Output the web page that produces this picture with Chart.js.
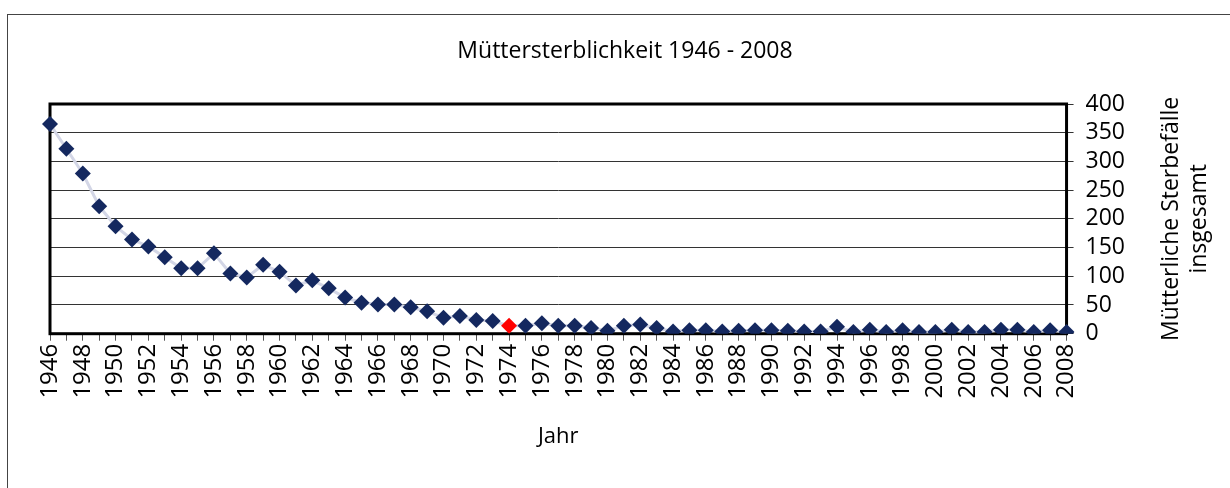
<!DOCTYPE html>
<html>
<head>
<meta charset="utf-8">
<script src="https://cdn.jsdelivr.net/npm/chart.js@4.4.0/dist/chart.umd.min.js"></script>
<style>
  html, body { margin: 0; padding: 0; background: #fff; }
  #frame { position: absolute; left: 7px; top: 14px; width: 1240px; height: 490px; border: 1px solid #444; box-sizing: border-box; }
  #wrap { position: absolute; left: 0; top: 0; width: 1230px; height: 488px; }
</style>
</head>
<body>
<div id="frame"></div>
<div id="wrap"><canvas id="chart"></canvas></div>
<script>
// Jahre (Kategorien)
const years = [
  '1946','1947','1948','1949','1950','1951','1952','1953','1954','1955',
  '1956','1957','1958','1959','1960','1961','1962','1963','1964','1965',
  '1966','1967','1968','1969','1970','1971','1972','1973','1974','1975',
  '1976','1977','1978','1979','1980','1981','1982','1983','1984','1985',
  '1986','1987','1988','1989','1990','1991','1992','1993','1994','1995',
  '1996','1997','1998','1999','2000','2001','2002','2003','2004','2005',
  '2006','2007','2008'
];

// Mütterliche Sterbefälle insgesamt (aus dem Bild geschätzt)
const deaths = [
  365, 322, 279, 222, 187, 164, 152, 133, 114, 114,
  140, 105, 98, 120, 108, 84, 93, 79, 63, 54,
  51, 51, 46, 39, 28, 31, 24, 22, 14, 14,
  18, 14, 14, 10, 5, 14, 16, 10, 4, 6,
  6, 4, 5, 6, 6, 5, 4, 4, 12, 3,
  7, 3, 6, 3, 3, 7, 3, 3, 7, 7,
  3, 6, 3
];

const yTicks = [0, 50, 100, 150, 200, 250, 300, 350, 400];
const highlightYear = '1974';

const navy = '#14285f';
const fontFamily = "'Open Sans', 'DejaVu Sans', sans-serif";

const pointColors = years.map(y => y === highlightYear ? '#ff0000' : navy);

// Rahmen um die Zeichenfläche
const plotFrame = {
  id: 'plotFrame',
  beforeDatasetsDraw(chart) {
    const { ctx, chartArea: a } = chart;
    ctx.save();
    ctx.strokeStyle = '#000';
    ctx.lineWidth = 3;
    ctx.strokeRect(a.left, a.top, a.right - a.left, a.bottom - a.top);
    ctx.restore();
  }
};

// Diagrammtitel und Achsentitel rechts (von unten nach oben lesbar)
const texts = {
  id: 'texts',
  afterDraw(chart) {
    const { ctx, chartArea: a } = chart;
    ctx.save();
    ctx.fillStyle = '#000';
    ctx.textAlign = 'center';
    ctx.textBaseline = 'middle';
    ctx.font = '23px ' + fontFamily;
    ctx.fillText('Müttersterblichkeit 1946 - 2008', 625, 51);
    const x = chart.scales.y.right;
    const cy = (a.top + a.bottom) / 2;
    ctx.font = '23px ' + fontFamily;
    ctx.translate(x + 34, cy);
    ctx.rotate(-Math.PI / 2);
    ctx.fillText('Mütterliche Sterbefälle', 0, 0);
    ctx.fillText('insgesamt', 0, 28);
    ctx.restore();
  }
};

const ctx = document.getElementById('chart').getContext('2d');
const chart = new Chart(ctx, {
  type: 'line',
  data: {
    labels: years,
    datasets: [{
      label: 'Mütterliche Sterbefälle',
      data: deaths,
      borderColor: '#d3d6e6',
      borderWidth: 3,
      pointStyle: 'rectRot',
      pointRadius: 8,
      pointHoverRadius: 8,
      pointBackgroundColor: pointColors,
      pointBorderColor: pointColors,
      pointBorderWidth: 0,
      tension: 0
    }]
  },
  options: {
    responsive: true,
    maintainAspectRatio: false,
    animation: false,
    layout: { padding: { left: 50, right: 93, top: 104, bottom: 38 } },
    plugins: {
      legend: { display: false },
      tooltip: { enabled: false },
      title: { display: false }
    },
    scales: {
      x: {
        offset: false,
        grid: { drawOnChartArea: false, drawTicks: true, tickLength: 7, color: '#555' },
        border: { display: false },
        ticks: {
          autoSkip: false,
          maxRotation: 90,
          minRotation: 90,
          color: '#000',
          padding: 3,
          font: { family: fontFamily, size: 24 },
          callback: (v, i) => (i % 2 === 0 ? years[i] : '')
        },
        title: {
          display: true,
          text: 'Jahr',
          color: '#000',
          font: { family: fontFamily, size: 22 },
          padding: { top: 22, bottom: 0 }
        }
      },
      y: {
        position: 'right',
        min: 0,
        max: 400,
        afterBuildTicks: axis => { axis.ticks = yTicks.map(v => ({ value: v })); },
        grid: { color: '#333', lineWidth: 1, tickLength: 7 },
        border: { display: false },
        ticks: {
          autoSkip: false,
          color: '#000',
          padding: 12,
          font: { family: fontFamily, size: 23, lineHeight: 1 }
        }
      }
    }
  },
  plugins: [plotFrame, texts]
});
</script>
</body>
</html>
